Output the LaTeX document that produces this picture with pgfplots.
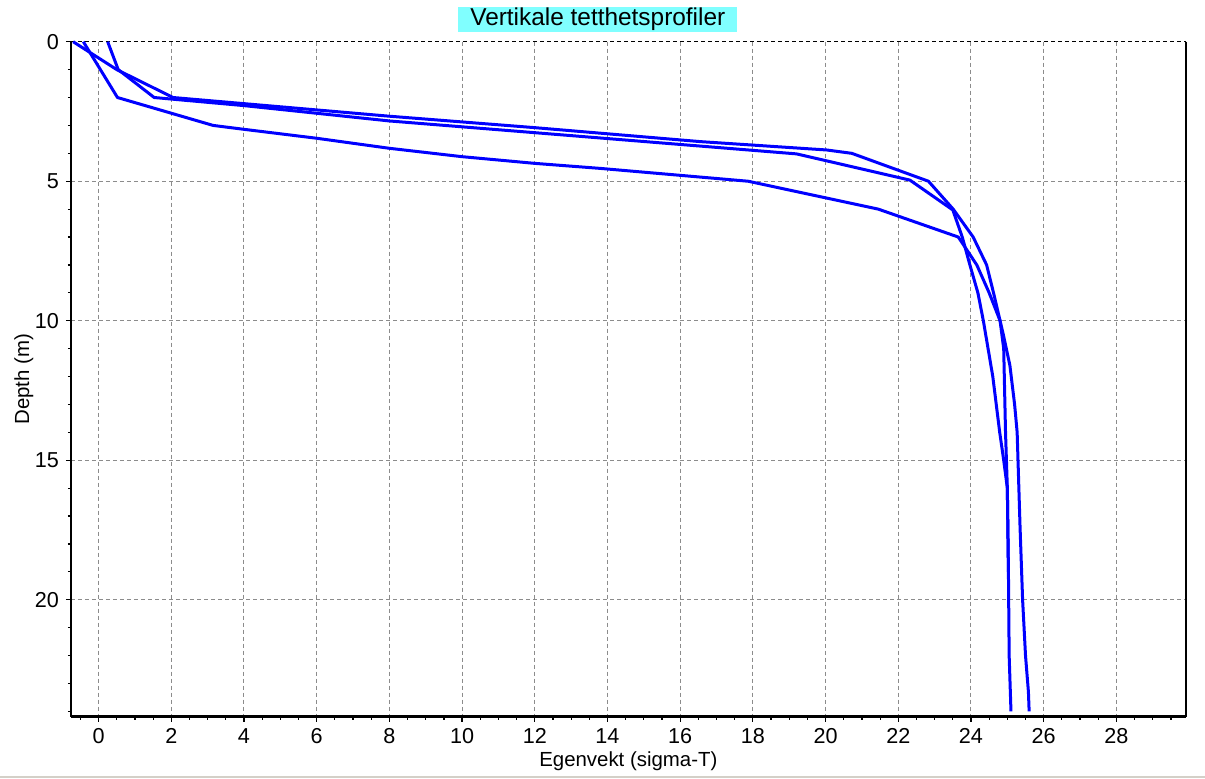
\documentclass[border=0pt]{standalone}
\usepackage{fontspec}
\setmainfont{Liberation Sans}
\usepackage{pgfplots}
\usepackage{pgfplotstable}
\pgfplotsset{compat=1.18}
\definecolor{gridgray}{RGB}{140,140,140}
\definecolor{titlecyan}{RGB}{128,255,255}
\definecolor{lineblue}{RGB}{0,0,255}
\definecolor{bordergray}{RGB}{212,208,200}

\pgfplotstableread{
x d
0.25 0
0.54 1
1.53 2
4 2.29
8 2.84
12 3.26
16.55 3.74
19.2 4.02
22.32 4.96
23.5 6.03
23.76 7
23.97 8
24.19 9
24.34 10
24.6 12
24.79 14
24.9 15
25.0 16
25.03 19
}\profA

\pgfplotstableread{
x d
-0.7 0
0.5 1
2.05 2
8 2.67
12 3.08
16.55 3.58
20.03 3.88
20.72 4
22.83 5
23.51 6
24.06 7
24.43 8
24.62 9
24.8 10
24.89 10.5
25.07 11.6
25.2 13
25.27 14
25.35 17.4
25.42 20
25.5 22
25.58 23.3
25.6 24
}\profC

\pgfplotstableread{
x d
-0.42 0
0.52 2
3.15 3
4 3.14
6 3.46
8 3.82
10 4.12
12 4.36
13.8 4.54
17.87 5
21.45 6
23.65 7
24.16 8
24.5 9
24.8 10
24.9 11
24.95 14
25.0 16
25.03 19
25.05 22
25.1 24
}\profB

\begin{document}
\begin{tikzpicture}
\useasboundingbox (-35.5pt,-30.65pt) rectangle (567pt,358.35pt);
\begin{axis}[
  at={(0pt,0pt)}, anchor=south west,
  scale only axis, width=557.35pt, height=337.5pt,
  xmin=-0.759, xmax=29.907, ymin=0, ymax=24.19, y dir=reverse,
  clip=false,
  axis x line*=bottom, axis y line*=left,
  axis line style={line width=1.4pt, black},
  xtick={-2,0,...,30}, ytick={0,5,...,25},
  minor x tick num=3, minor y tick num=4,
  tick align=outside,
  major tick length=2.5pt, minor tick length=1.5pt,
  tick style={black, line width=0.6pt},
  grid=major,
  major grid style={gridgray, dash pattern=on 2pt off 1.5pt, line width=0.5pt},
  /pgf/number format/assume math mode=true,
  ticklabel style={font=\fontsize{10.8}{13}\selectfont},
  every axis title shift=0pt,
  title={Vertikale tetthetsprofiler},
  title style={at={(axis description cs:0.4726,1.0326)}, anchor=center,
    fill=titlecyan, font=\fontsize{12.2}{14}\selectfont,
    inner xsep=6pt, inner ysep=1.3pt, text height=0.75em, text depth=0.22em},
  xlabel={Egenvekt (sigma-T)},
  xlabel style={at={(axis description cs:0.5,-0.0658)}, anchor=center,
    font=\fontsize{10.2}{12}\selectfont},
  ylabel={Depth (m)},
  ylabel style={at={(axis description cs:-0.0422,0.5)}, anchor=center,
    font=\fontsize{10.2}{12}\selectfont},
]
\draw[black, dash pattern=on 2pt off 1.5pt, line width=0.7pt] (axis cs:-0.759,0) -- (axis cs:29.907,0);
\draw[black, line width=0.8pt] (axis cs:29.907,0) -- (axis cs:29.907,24.19);
\addplot[lineblue, line width=1.5pt, line join=round] table[x=x, y=d] {\profA};
\addplot[lineblue, line width=1.5pt, line join=round] table[x=x, y=d] {\profC};
\addplot[lineblue, line width=1.5pt, line join=round] table[x=x, y=d] {\profB};
\end{axis}
\draw[bordergray, line width=0.8pt] (-35.5pt,-30pt) -- (567pt,-30pt);
\end{tikzpicture}
\end{document}
